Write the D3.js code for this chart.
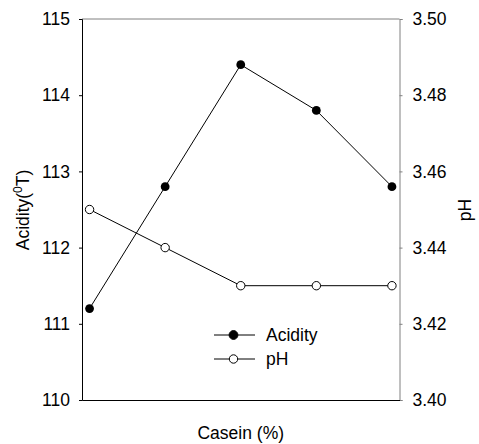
<!DOCTYPE html>
<html>
<head>
<meta charset="utf-8">
<script src="https://cdn.jsdelivr.net/npm/d3@7"></script>
<style>
  body { margin: 0; background: #fff; }
  svg text { font-family: Arial, "Liberation Sans", sans-serif; }
</style>
</head>
<body>
<div id="chart"></div>
<script>
// casein levels (no tick labels are shown on the x axis)
var casein = [1, 2, 3, 4, 5];
var acidity = [111.2, 112.8, 114.4, 113.8, 112.8];
var ph = [3.45, 3.44, 3.43, 3.43, 3.43];
var acidityTicks = [110, 111, 112, 113, 114, 115];
var phTicks = [3.40, 3.42, 3.44, 3.46, 3.48, 3.50];
var legendItems = ["Acidity", "pH"];

var width = 479, height = 444;
var margin = {top: 19, right: 79.5, bottom: 44, left: 82};
var fontSize = 17.5;

var svg = d3.select("#chart").append("svg")
    .attr("width", width)
    .attr("height", height);

var x = d3.scaleLinear().domain([0.9, 5.1]).range([margin.left, width - margin.right]);
var yL = d3.scaleLinear().domain([110, 115]).range([height - margin.bottom, margin.top]);
var yR = d3.scaleLinear().domain([3.40, 3.50]).range([height - margin.bottom, margin.top]);

// top frame line and right axis are drawn grey
svg.append("line")
    .attr("x1", x.range()[0]).attr("x2", x.range()[1])
    .attr("y1", margin.top).attr("y2", margin.top)
    .attr("stroke", "#808080");

var leftAxis = svg.append("g")
    .attr("transform", "translate(" + margin.left + ",0)")
    .call(d3.axisLeft(yL).tickValues(acidityTicks).tickSize(3).tickPadding(9).tickFormat(d3.format("d")));

var rightAxis = svg.append("g")
    .attr("transform", "translate(" + (width - margin.right) + ",0)")
    .call(d3.axisRight(yR).tickValues(phTicks).tickSize(3).tickPadding(10).tickFormat(d3.format(".2f")));

var bottomAxis = svg.append("g")
    .attr("transform", "translate(0," + (height - margin.bottom) + ")")
    .call(d3.axisBottom(x).tickValues([]).tickSizeOuter(0));

[leftAxis, rightAxis, bottomAxis].forEach(function (g) {
    g.selectAll("text").attr("font-size", fontSize).attr("font-family", "Arial, 'Liberation Sans', sans-serif").attr("fill", "#000");
});
leftAxis.selectAll("path, line").attr("stroke", "#000");
bottomAxis.select("path").attr("stroke", "#000");
rightAxis.selectAll("path, line").attr("stroke", "#808080");

// axis titles
var leftTitle = svg.append("text")
    .attr("transform", "translate(29," + 210 + ") rotate(-90)")
    .attr("text-anchor", "middle")
    .attr("font-size", fontSize);
leftTitle.append("tspan").text("Acidity(");
leftTitle.append("tspan").attr("font-size", 12).attr("dy", -7).text("0");
leftTitle.append("tspan").attr("dy", 7).text("T)");

svg.append("text")
    .attr("transform", "translate(471," + 210 + ") rotate(-90)")
    .attr("text-anchor", "middle")
    .attr("font-size", fontSize)
    .text("pH");

svg.append("text")
    .attr("x", (x.range()[0] + x.range()[1]) / 2)
    .attr("y", 439)
    .attr("text-anchor", "middle")
    .attr("font-size", fontSize)
    .text("Casein (%)");

// series
var lineL = d3.line().x(function (d, i) { return x(casein[i]); }).y(function (d) { return yL(d); });
var lineR = d3.line().x(function (d, i) { return x(casein[i]); }).y(function (d) { return yR(d); });

svg.append("path").datum(acidity).attr("d", lineL)
    .attr("fill", "none").attr("stroke", "#000").attr("stroke-width", 1);
svg.append("path").datum(ph).attr("d", lineR)
    .attr("fill", "none").attr("stroke", "#000").attr("stroke-width", 1);

svg.selectAll(".acid").data(acidity).enter()
    .append("circle")
    .attr("class", "acid")
    .attr("cx", function (d, i) { return x(casein[i]); })
    .attr("cy", function (d) { return yL(d); })
    .attr("r", 4.4)
    .attr("fill", "#000");

svg.selectAll(".ph").data(ph).enter()
    .append("circle")
    .attr("class", "ph")
    .attr("cx", function (d, i) { return x(casein[i]); })
    .attr("cy", function (d) { return yR(d); })
    .attr("r", 4.2)
    .attr("fill", "#fff")
    .attr("stroke", "#000")
    .attr("stroke-width", 1);

// legend
var legend = svg.selectAll(".legend").data(legendItems).enter()
    .append("g")
    .attr("class", "legend")
    .attr("transform", function (d, i) { return "translate(214," + (335 + 24 * i) + ")"; });

legend.append("line")
    .attr("x1", 0).attr("x2", 41)
    .attr("stroke", "#000");
legend.append("circle")
    .attr("cx", 19.5)
    .attr("r", function (d, i) { return i === 0 ? 4.4 : 4.2; })
    .attr("fill", function (d, i) { return i === 0 ? "#000" : "#fff"; })
    .attr("stroke", "#000");
legend.append("text")
    .attr("x", 52)
    .attr("dy", "0.35em")
    .attr("font-size", fontSize)
    .text(function (d) { return d; });
</script>
</body>
</html>
